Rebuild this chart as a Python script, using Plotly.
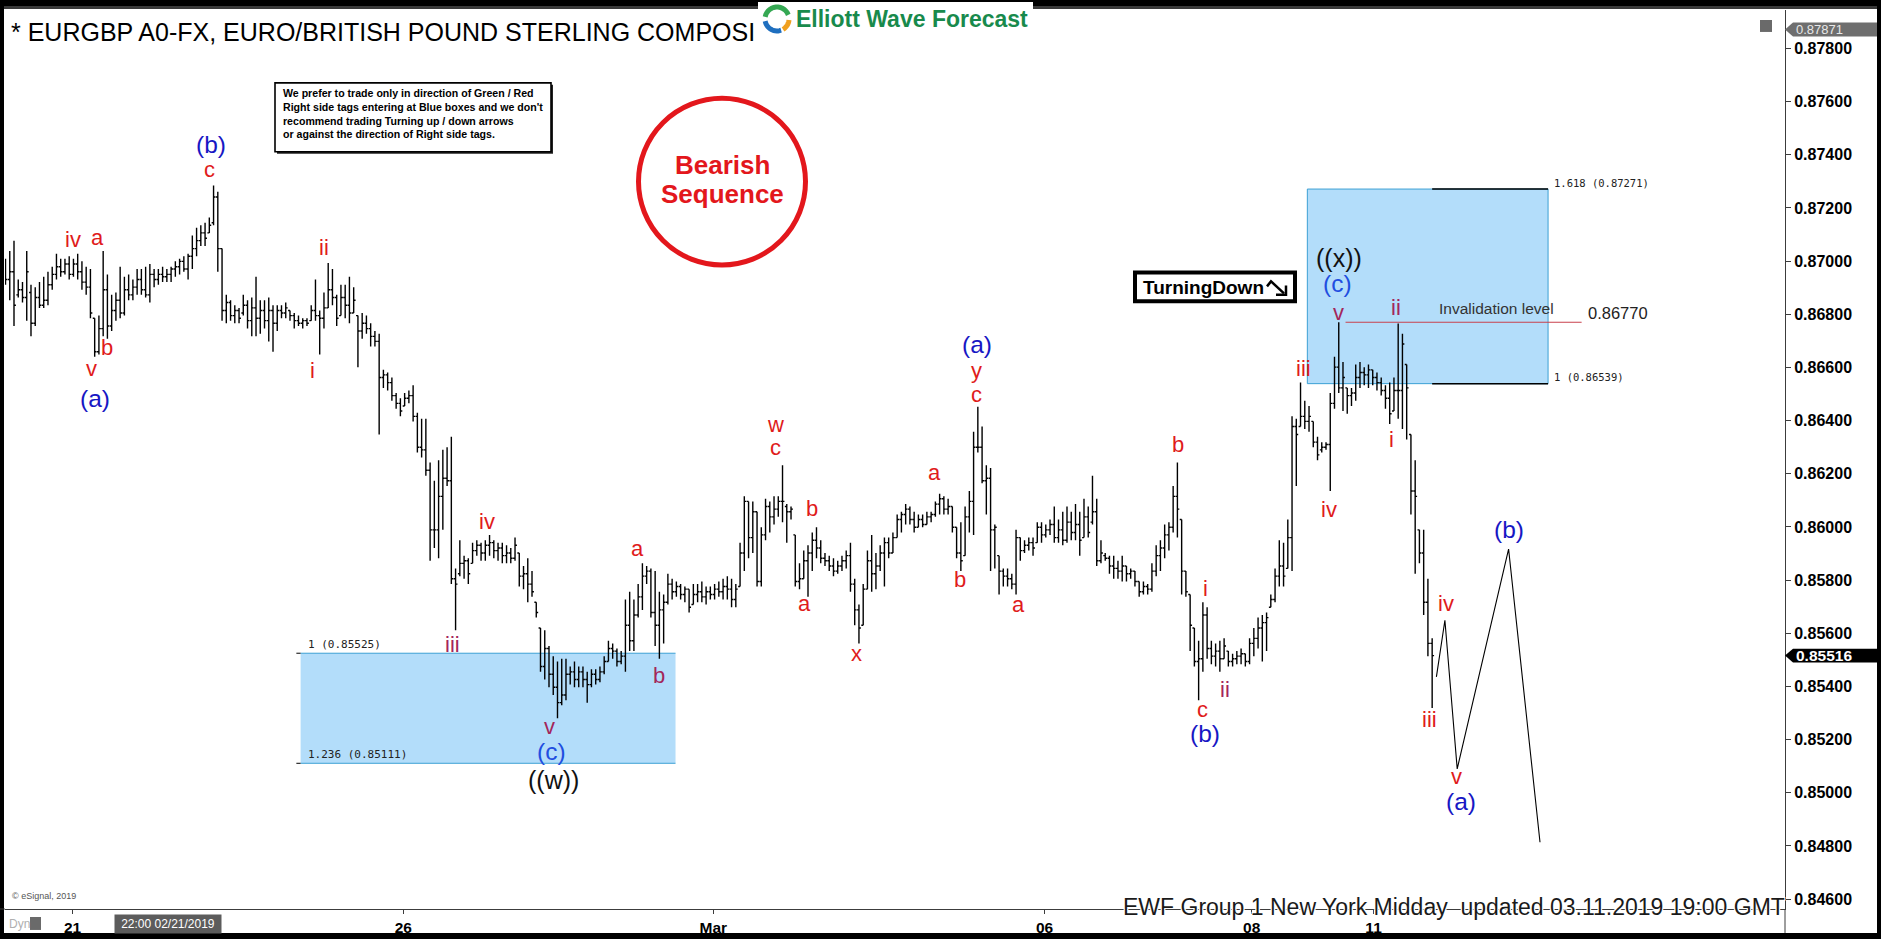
import math
import plotly.graph_objects as go

# ---------------------------------------------------------------- canvas
W, H = 1881, 941
ML, MR, MT, MB = 5, 96, 10, 30
PW, PH = W - ML - MR, H - MT - MB

Y_LO, Y_HI = 0.845629, 0.879445
X_LO, X_HI = -0.12, 419.1


def xp(x):
    """pixel column -> paper x"""
    return (x - ML) / PW


def yp(y):
    """pixel row -> paper y"""
    return (H - MB - y) / PH


def pp(price):
    """price -> paper y"""
    return (price - Y_LO) / (Y_HI - Y_LO)


# ---------------------------------------------------------------- hourly bars
OPEN = [
    0.86950, 0.86931, 0.86960, 0.86873, 0.86892, 0.86863, 0.86882, 0.86766, 0.86863, 0.86834,
    0.86853, 0.86911, 0.86950, 0.86979, 0.86960, 0.86989, 0.86950, 0.86989, 0.86960, 0.86921,
    0.86902, 0.86785, 0.86659, 0.86746, 0.86892, 0.86756, 0.86814, 0.86853, 0.86805, 0.86892,
    0.86873, 0.86902, 0.86931, 0.86892, 0.86873, 0.86950, 0.86931, 0.86950, 0.86941, 0.86950,
    0.86970, 0.86979, 0.86999, 0.86970, 0.87018, 0.87047, 0.87077, 0.87106, 0.87106, 0.87144,
    0.87241, 0.87047, 0.86814, 0.86844, 0.86795, 0.86814, 0.86805, 0.86834, 0.86776, 0.86824,
    0.86785, 0.86814, 0.86776, 0.86814, 0.86766, 0.86814, 0.86805, 0.86814, 0.86795, 0.86776,
    0.86766, 0.86776, 0.86776, 0.86814, 0.86795, 0.86785, 0.86824, 0.86892, 0.86863, 0.86795,
    0.86863, 0.86834, 0.86805, 0.86795, 0.86737, 0.86766,
    0.86746, 0.86717, 0.86698, 0.86562, 0.86572, 0.86543, 0.86494, 0.86465, 0.86455, 0.86484,
    0.86494, 0.86416, 0.86300, 0.86290, 0.86213, 0.85989, 0.85989, 0.86115, 0.86183, 0.86174,
    0.85805, 0.85824, 0.85863, 0.85873, 0.85863, 0.85911, 0.85931, 0.85902, 0.85931, 0.85941,
    0.85911, 0.85921, 0.85892, 0.85902, 0.85882, 0.85902, 0.85815, 0.85824, 0.85785, 0.85717,
    0.85620, 0.85475, 0.85543, 0.85446, 0.85397, 0.85339, 0.85368, 0.85446, 0.85455, 0.85426,
    0.85455, 0.85426, 0.85407, 0.85446, 0.85426, 0.85455, 0.85494, 0.85543, 0.85533, 0.85494,
    0.85514, 0.85630, 0.85572, 0.85669, 0.85737, 0.85815, 0.85834, 0.85678, 0.85630, 0.85688,
    0.85717, 0.85785, 0.85756, 0.85776, 0.85746, 0.85766, 0.85708, 0.85746, 0.85756, 0.85737,
    0.85756, 0.85746, 0.85766, 0.85756, 0.85776,
    0.85766, 0.85727, 0.85776, 0.85902, 0.86096, 0.85960, 0.86057, 0.85795, 0.85970, 0.86077,
    0.86038, 0.86067, 0.86096, 0.86077, 0.86057, 0.85970, 0.85795, 0.85805, 0.85873, 0.85902,
    0.85950, 0.85921, 0.85882, 0.85873, 0.85853, 0.85834, 0.85853, 0.85873, 0.85892, 0.85785,
    0.85688, 0.85630, 0.85766, 0.85873, 0.85824, 0.85853, 0.85902, 0.85941, 0.85902, 0.85960,
    0.86028, 0.86047, 0.86067, 0.86028, 0.85999, 0.86028, 0.86009, 0.86038, 0.86047, 0.86086,
    0.86106, 0.86067, 0.86077, 0.85999, 0.85902, 0.85892, 0.86038, 0.86096, 0.86300, 0.86300,
    0.86174, 0.86183, 0.85989, 0.85892, 0.85834, 0.85815, 0.85805, 0.85785, 0.85960, 0.85911,
    0.85931, 0.85941, 0.85941, 0.85999, 0.85970, 0.85989, 0.86009, 0.85960, 0.85989, 0.85950,
    0.86018, 0.85979, 0.86009, 0.85960,
    0.86038, 0.86018, 0.86057, 0.85873, 0.85892, 0.85882, 0.85853, 0.85844, 0.85834, 0.85853,
    0.85824, 0.85834, 0.85795, 0.85756, 0.85776, 0.85766, 0.85834, 0.85892, 0.85921, 0.85970,
    0.85999, 0.86115, 0.86028, 0.85834, 0.85746, 0.85620, 0.85494, 0.85504, 0.85669, 0.85543,
    0.85514, 0.85533, 0.85504, 0.85533, 0.85494, 0.85504, 0.85514, 0.85523, 0.85494, 0.85562,
    0.85581, 0.85620, 0.85640, 0.85698, 0.85727, 0.85815, 0.85853, 0.85844, 0.85960, 0.86378,
    0.86378, 0.86416, 0.86397, 0.86397, 0.86319, 0.86290, 0.86300, 0.86310, 0.86465, 0.86601,
    0.86523, 0.86523, 0.86494, 0.86504, 0.86562, 0.86581, 0.86572, 0.86591, 0.86562, 0.86543,
    0.86513, 0.86484, 0.86436, 0.86513, 0.86513, 0.86611, 0.86348, 0.86135, 0.85989, 0.85902,
    0.85717, 0.85562,
]

HIGH = [
    0.87009, 0.87038, 0.87077, 0.86931, 0.86921, 0.87038, 0.86911, 0.86902, 0.86921, 0.86941,
    0.86960, 0.86979, 0.87028, 0.87009, 0.87009, 0.87018, 0.87009, 0.87028, 0.86999, 0.86979,
    0.86970, 0.86785, 0.86795, 0.87038, 0.86950, 0.86873, 0.86882, 0.86979, 0.86941, 0.86950,
    0.86931, 0.86970, 0.86970, 0.86979, 0.86989, 0.86970, 0.86970, 0.86979, 0.86970, 0.86979,
    0.86999, 0.87009, 0.87018, 0.87028, 0.87096, 0.87125, 0.87135, 0.87144, 0.87164, 0.87284,
    0.87261, 0.87047, 0.86873, 0.86853, 0.86834, 0.86824, 0.86873, 0.86853, 0.86863, 0.86941,
    0.86853, 0.86853, 0.86863, 0.86834, 0.86834, 0.86834, 0.86844, 0.86814, 0.86805, 0.86795,
    0.86785, 0.86785, 0.86834, 0.86931, 0.86814, 0.86882, 0.86993, 0.86970, 0.86873, 0.86911,
    0.86911, 0.86941, 0.86902, 0.86795, 0.86805, 0.86795,
    0.86766, 0.86737, 0.86727, 0.86591, 0.86581, 0.86562, 0.86504, 0.86484, 0.86504, 0.86513,
    0.86533, 0.86430, 0.86407, 0.86407, 0.86242, 0.86174, 0.86251, 0.86290, 0.86300, 0.86339,
    0.85844, 0.85950, 0.85892, 0.85882, 0.85941, 0.85950, 0.85941, 0.85950, 0.85970, 0.85950,
    0.85941, 0.85941, 0.85931, 0.85921, 0.85960, 0.85902, 0.85853, 0.85882, 0.85834, 0.85717,
    0.85620, 0.85611, 0.85552, 0.85514, 0.85494, 0.85504, 0.85504, 0.85475, 0.85494, 0.85475,
    0.85475, 0.85455, 0.85465, 0.85465, 0.85475, 0.85514, 0.85572, 0.85562, 0.85543, 0.85533,
    0.85727, 0.85756, 0.85727, 0.85785, 0.85863, 0.85853, 0.85844, 0.85834, 0.85756, 0.85746,
    0.85824, 0.85805, 0.85795, 0.85785, 0.85776, 0.85766, 0.85785, 0.85785, 0.85795, 0.85776,
    0.85776, 0.85785, 0.85795, 0.85805, 0.85815,
    0.85805, 0.85785, 0.85941, 0.86115, 0.86096, 0.86096, 0.86057, 0.85999, 0.86106, 0.86096,
    0.86115, 0.86115, 0.86232, 0.86086, 0.86077, 0.85970, 0.85863, 0.85911, 0.85931, 0.85979,
    0.85999, 0.85950, 0.85902, 0.85892, 0.85882, 0.85873, 0.85892, 0.85911, 0.85941, 0.85805,
    0.85708, 0.85785, 0.85911, 0.85970, 0.85902, 0.85931, 0.85960, 0.85960, 0.85979, 0.86047,
    0.86057, 0.86086, 0.86077, 0.86057, 0.86047, 0.86047, 0.86057, 0.86057, 0.86096, 0.86125,
    0.86115, 0.86106, 0.86077, 0.85999, 0.86018, 0.86077, 0.86135, 0.86358, 0.86452, 0.86378,
    0.86232, 0.86222, 0.86009, 0.85892, 0.85844, 0.85844, 0.85824, 0.85989, 0.85960, 0.85950,
    0.85960, 0.85960, 0.86018, 0.86018, 0.86009, 0.86028, 0.86077, 0.86028, 0.86057, 0.86077,
    0.86057, 0.86086, 0.86057, 0.86106,
    0.86077, 0.86193, 0.86106, 0.85950, 0.85902, 0.85892, 0.85892, 0.85873, 0.85892, 0.85853,
    0.85844, 0.85834, 0.85795, 0.85795, 0.85785, 0.85863, 0.85931, 0.85950, 0.86009, 0.86018,
    0.86154, 0.86242, 0.86028, 0.85834, 0.85746, 0.85620, 0.85572, 0.85717, 0.85698, 0.85572,
    0.85562, 0.85572, 0.85581, 0.85533, 0.85523, 0.85533, 0.85543, 0.85523, 0.85581, 0.85620,
    0.85659, 0.85669, 0.85678, 0.85746, 0.85844, 0.85950, 0.85941, 0.86028, 0.86416, 0.86407,
    0.86543, 0.86475, 0.86455, 0.86397, 0.86339, 0.86319, 0.86319, 0.86504, 0.86640, 0.86770,
    0.86620, 0.86523, 0.86523, 0.86611, 0.86620, 0.86601, 0.86611, 0.86591, 0.86581, 0.86562,
    0.86533, 0.86543, 0.86562, 0.86765, 0.86727, 0.86611, 0.86348, 0.86251, 0.85989, 0.85989,
    0.85805, 0.85581,
]

LOW = [
    0.86911, 0.86853, 0.86756, 0.86863, 0.86844, 0.86776, 0.86717, 0.86756, 0.86824, 0.86824,
    0.86834, 0.86892, 0.86931, 0.86941, 0.86950, 0.86931, 0.86941, 0.86931, 0.86892, 0.86873,
    0.86785, 0.86640, 0.86649, 0.86717, 0.86708, 0.86737, 0.86776, 0.86785, 0.86795, 0.86853,
    0.86853, 0.86873, 0.86873, 0.86863, 0.86844, 0.86902, 0.86911, 0.86921, 0.86921, 0.86921,
    0.86941, 0.86950, 0.86960, 0.86931, 0.86970, 0.87018, 0.87057, 0.87057, 0.87106, 0.87135,
    0.86960, 0.86776, 0.86766, 0.86776, 0.86766, 0.86766, 0.86795, 0.86746, 0.86717, 0.86717,
    0.86727, 0.86746, 0.86698, 0.86659, 0.86737, 0.86785, 0.86785, 0.86776, 0.86746, 0.86756,
    0.86746, 0.86756, 0.86776, 0.86776, 0.86649, 0.86746, 0.86824, 0.86834, 0.86756, 0.86795,
    0.86785, 0.86766, 0.86805, 0.86601, 0.86708, 0.86727,
    0.86679, 0.86679, 0.86348, 0.86523, 0.86513, 0.86475, 0.86445, 0.86416, 0.86455, 0.86465,
    0.86397, 0.86280, 0.86261, 0.86193, 0.85873, 0.85921, 0.85882, 0.85989, 0.86154, 0.85785,
    0.85611, 0.85815, 0.85805, 0.85785, 0.85863, 0.85892, 0.85873, 0.85873, 0.85892, 0.85882,
    0.85873, 0.85863, 0.85863, 0.85863, 0.85873, 0.85776, 0.85766, 0.85717, 0.85737, 0.85659,
    0.85455, 0.85426, 0.85397, 0.85368, 0.85280, 0.85329, 0.85348, 0.85407, 0.85397, 0.85397,
    0.85397, 0.85339, 0.85397, 0.85407, 0.85416, 0.85446, 0.85494, 0.85504, 0.85475, 0.85484,
    0.85455, 0.85533, 0.85533, 0.85659, 0.85688, 0.85785, 0.85659, 0.85552, 0.85504, 0.85562,
    0.85708, 0.85727, 0.85737, 0.85727, 0.85717, 0.85678, 0.85708, 0.85717, 0.85717, 0.85708,
    0.85727, 0.85727, 0.85737, 0.85727, 0.85727,
    0.85698, 0.85698, 0.85776, 0.85834, 0.85882, 0.85902, 0.85776, 0.85776, 0.85950, 0.85979,
    0.86009, 0.86038, 0.86018, 0.85941, 0.86028, 0.85776, 0.85766, 0.85805, 0.85737, 0.85834,
    0.85882, 0.85863, 0.85853, 0.85834, 0.85815, 0.85824, 0.85834, 0.85844, 0.85756, 0.85630,
    0.85562, 0.85630, 0.85766, 0.85756, 0.85766, 0.85834, 0.85776, 0.85882, 0.85902, 0.85960,
    0.85979, 0.86009, 0.86009, 0.85979, 0.85999, 0.85999, 0.86009, 0.86018, 0.86038, 0.86047,
    0.86047, 0.86047, 0.85979, 0.85882, 0.85834, 0.85892, 0.85979, 0.85970, 0.86280, 0.86164,
    0.86047, 0.85834, 0.85844, 0.85746, 0.85776, 0.85776, 0.85766, 0.85746, 0.85873, 0.85902,
    0.85911, 0.85892, 0.85941, 0.85941, 0.85960, 0.85970, 0.85941, 0.85941, 0.85931, 0.85941,
    0.85950, 0.85950, 0.85892, 0.85960,
    0.85960, 0.86009, 0.85853, 0.85863, 0.85873, 0.85824, 0.85805, 0.85805, 0.85795, 0.85795,
    0.85805, 0.85776, 0.85737, 0.85746, 0.85746, 0.85756, 0.85815, 0.85834, 0.85882, 0.85911,
    0.85979, 0.85960, 0.85746, 0.85737, 0.85533, 0.85475, 0.85348, 0.85455, 0.85504, 0.85484,
    0.85475, 0.85455, 0.85504, 0.85475, 0.85475, 0.85484, 0.85484, 0.85475, 0.85484, 0.85514,
    0.85543, 0.85494, 0.85533, 0.85698, 0.85717, 0.85776, 0.85776, 0.85844, 0.85834, 0.86154,
    0.86378, 0.86368, 0.86358, 0.86300, 0.86251, 0.86280, 0.86290, 0.86135, 0.86445, 0.86504,
    0.86436, 0.86426, 0.86455, 0.86475, 0.86523, 0.86533, 0.86523, 0.86533, 0.86513, 0.86494,
    0.86445, 0.86387, 0.86436, 0.86407, 0.86368, 0.86329, 0.86047, 0.85824, 0.85863, 0.85669,
    0.85514, 0.85319,
]

CLOSE = [
    0.86931, 0.86960, 0.86834, 0.86892, 0.86863, 0.86960, 0.86766, 0.86863, 0.86834, 0.86853,
    0.86911, 0.86950, 0.86979, 0.86960, 0.86989, 0.86950, 0.86989, 0.86960, 0.86921, 0.86902,
    0.86805, 0.86659, 0.86746, 0.86892, 0.86756, 0.86814, 0.86853, 0.86805, 0.86892, 0.86873,
    0.86902, 0.86931, 0.86892, 0.86873, 0.86950, 0.86931, 0.86950, 0.86941, 0.86950, 0.86970,
    0.86979, 0.86999, 0.86970, 0.87018, 0.87047, 0.87077, 0.87106, 0.87086, 0.87135, 0.87241,
    0.87047, 0.86814, 0.86844, 0.86795, 0.86814, 0.86785, 0.86834, 0.86776, 0.86824, 0.86785,
    0.86814, 0.86776, 0.86814, 0.86766, 0.86814, 0.86805, 0.86824, 0.86795, 0.86776, 0.86766,
    0.86776, 0.86766, 0.86814, 0.86795, 0.86785, 0.86824, 0.86892, 0.86863, 0.86785, 0.86863,
    0.86834, 0.86805, 0.86853, 0.86737, 0.86766, 0.86746,
    0.86717, 0.86698, 0.86562, 0.86572, 0.86543, 0.86494, 0.86465, 0.86436, 0.86484, 0.86494,
    0.86416, 0.86300, 0.86290, 0.86213, 0.85989, 0.85989, 0.86115, 0.86183, 0.86174, 0.85805,
    0.85785, 0.85863, 0.85873, 0.85824, 0.85911, 0.85931, 0.85902, 0.85931, 0.85941, 0.85911,
    0.85921, 0.85892, 0.85902, 0.85882, 0.85931, 0.85815, 0.85824, 0.85785, 0.85756, 0.85678,
    0.85475, 0.85543, 0.85446, 0.85397, 0.85339, 0.85368, 0.85446, 0.85455, 0.85426, 0.85455,
    0.85426, 0.85407, 0.85446, 0.85426, 0.85455, 0.85494, 0.85543, 0.85533, 0.85494, 0.85514,
    0.85630, 0.85572, 0.85669, 0.85737, 0.85815, 0.85834, 0.85678, 0.85630, 0.85688, 0.85717,
    0.85785, 0.85756, 0.85776, 0.85746, 0.85766, 0.85698, 0.85746, 0.85756, 0.85737, 0.85756,
    0.85746, 0.85766, 0.85756, 0.85776, 0.85766,
    0.85727, 0.85766, 0.85902, 0.86096, 0.85960, 0.86057, 0.85795, 0.85970, 0.86077, 0.86038,
    0.86067, 0.86096, 0.86096, 0.86057, 0.86067, 0.85795, 0.85805, 0.85873, 0.85902, 0.85950,
    0.85921, 0.85882, 0.85873, 0.85853, 0.85834, 0.85853, 0.85873, 0.85892, 0.85785, 0.85688,
    0.85620, 0.85766, 0.85873, 0.85824, 0.85853, 0.85902, 0.85941, 0.85902, 0.85960, 0.86028,
    0.86047, 0.86067, 0.86028, 0.85999, 0.86028, 0.86009, 0.86038, 0.86047, 0.86086, 0.86106,
    0.86067, 0.86077, 0.85999, 0.85902, 0.85873, 0.86038, 0.86096, 0.86300, 0.86300, 0.86174,
    0.86183, 0.85989, 0.85999, 0.85834, 0.85815, 0.85805, 0.85785, 0.85960, 0.85911, 0.85931,
    0.85941, 0.85921, 0.85999, 0.85970, 0.85989, 0.86009, 0.85960, 0.85989, 0.85950, 0.86018,
    0.85979, 0.86009, 0.85950, 0.86038,
    0.85979, 0.86057, 0.85873, 0.85902, 0.85882, 0.85853, 0.85844, 0.85834, 0.85853, 0.85824,
    0.85834, 0.85795, 0.85756, 0.85776, 0.85766, 0.85834, 0.85892, 0.85921, 0.85970, 0.85999,
    0.86115, 0.86067, 0.85834, 0.85756, 0.85630, 0.85494, 0.85504, 0.85669, 0.85543, 0.85514,
    0.85533, 0.85504, 0.85552, 0.85494, 0.85504, 0.85514, 0.85523, 0.85494, 0.85562, 0.85581,
    0.85620, 0.85640, 0.85659, 0.85727, 0.85815, 0.85853, 0.85815, 0.85960, 0.86378, 0.86348,
    0.86416, 0.86397, 0.86416, 0.86319, 0.86271, 0.86300, 0.86310, 0.86465, 0.86601, 0.86523,
    0.86562, 0.86494, 0.86504, 0.86562, 0.86581, 0.86572, 0.86591, 0.86562, 0.86543, 0.86513,
    0.86484, 0.86426, 0.86513, 0.86513, 0.86688, 0.86523, 0.86135, 0.86115, 0.85902, 0.85717,
    0.85562, 0.85516,
]

BARS = list(range(len(CLOSE)))

# session labels on the time axis (bar positions)
TICK_BARS = [15.8, 93.7, 166.7, 244.7, 293.5, 322.2]
TICK_TEXT = ["21", "26", "Mar", "06", "08", "11"]

PRICE_TICKS = [0.846, 0.848, 0.850, 0.852, 0.854, 0.856, 0.858, 0.860, 0.862,
               0.864, 0.866, 0.868, 0.870, 0.872, 0.874, 0.876, 0.878]

# Fibonacci extension zones: (bar from, bar to, 1.0 level, 1.236/1.618 level)
LEFT_ZONE = (69.5, 157.8, 0.85525, 0.85111)
RIGHT_ZONE = (306.6, 363.3, 0.86539, 0.87271)
INVALIDATION = 0.86770
LAST_PRICE = 0.85516
TOP_PRICE = 0.87871

# projected path after the last bar
PROJ_BARS = [337.0, 339.0, 341.9, 354.0, 361.4]
PROJ_PRICES = [0.85436, 0.85649, 0.85090, 0.85917, 0.84814]

RED = "#e01b1b"
BLUE = "#1717c4"
BRIGHT_BLUE = "#1f4ee0"
MAROON = "#a3265a"
BLACK = "#111111"

R_SZ, B_SZ, K_SZ = 22, 24.5, 25

# wave labels: text, bar, price, colour, size
WAVE_LABELS = [
    ("(b)", 48.3, 0.87438, BLUE, B_SZ), ("c", 48.0, 0.87345, RED, R_SZ),
    ("iv", 15.9, 0.87082, RED, R_SZ), ("a", 21.6, 0.87090, RED, R_SZ),
    ("b", 23.8, 0.86675, RED, R_SZ), ("v", 20.3, 0.86595, RED, R_SZ),
    ("(a)", 21.0, 0.86485, BLUE, B_SZ),
    ("ii", 75.0, 0.87051, RED, R_SZ), ("i", 72.4, 0.86590, RED, R_SZ),
    ("iv", 113.4, 0.86019, RED, R_SZ), ("iii", 105.2, 0.85558, MAROON, R_SZ),
    ("a", 148.8, 0.85918, RED, R_SZ), ("b", 153.9, 0.85440, MAROON, R_SZ),
    ("v", 128.2, 0.85250, MAROON, R_SZ), ("(c)", 128.5, 0.85155, BRIGHT_BLUE, B_SZ),
    ("((w))", 129.0, 0.85050, BLACK, K_SZ),
    ("w", 181.3, 0.86385, RED, R_SZ), ("c", 181.3, 0.86298, RED, R_SZ),
    ("b", 190.0, 0.86068, RED, R_SZ), ("a", 188.2, 0.85711, RED, R_SZ),
    ("x", 200.4, 0.85524, RED, R_SZ),
    ("a", 218.9, 0.86203, RED, R_SZ), ("b", 224.8, 0.85801, RED, R_SZ),
    ("(a)", 228.8, 0.86688, BLUE, B_SZ), ("y", 228.8, 0.86590, RED, R_SZ),
    ("c", 228.7, 0.86500, RED, R_SZ), ("a", 238.6, 0.85708, RED, R_SZ),
    ("b", 276.2, 0.86310, RED, R_SZ), ("i", 282.5, 0.85770, RED, R_SZ),
    ("ii", 287.1, 0.85387, MAROON, R_SZ), ("c", 281.8, 0.85312, RED, R_SZ),
    ("(b)", 282.4, 0.85222, BLUE, B_SZ),
    ("iii", 305.8, 0.86597, RED, R_SZ), ("iv", 311.7, 0.86067, RED, R_SZ),
    ("((x))", 314.0, 0.87010, BLACK, K_SZ), ("(c)", 313.8, 0.86914, BRIGHT_BLUE, B_SZ),
    ("v", 314.0, 0.86806, MAROON, R_SZ), ("ii", 327.4, 0.86824, MAROON, R_SZ),
    ("i", 326.4, 0.86329, RED, R_SZ),
    ("iv", 339.2, 0.85711, RED, R_SZ), ("iii", 335.4, 0.85275, RED, R_SZ),
    ("v", 341.8, 0.85060, RED, R_SZ), ("(a)", 342.9, 0.84966, BLUE, B_SZ),
    ("(b)", 354.0, 0.85990, BLUE, B_SZ),
]

FONT = "Liberation Sans, Arial, sans-serif"
MONO = "DejaVu Sans Mono, monospace"

fig = go.Figure()

fig.add_trace(go.Ohlc(
    x=BARS, open=OPEN, high=HIGH, low=LOW, close=CLOSE,
    increasing=dict(line=dict(color="black", width=1.4)),
    decreasing=dict(line=dict(color="black", width=1.4)),
    tickwidth=0.45, hoverinfo="skip", showlegend=False,
))

fig.add_trace(go.Scatter(
    x=PROJ_BARS, y=PROJ_PRICES, mode="lines",
    line=dict(color="black", width=1.1), hoverinfo="skip", showlegend=False,
))

shapes = []
ann = []

ZONE_FILL = "rgb(179,221,250)"
ZONE_EDGE = "rgb(60,160,212)"

# left zone
lx0, lx1, l_one, l_ext = LEFT_ZONE
shapes.append(dict(type="rect", xref="x", yref="y", x0=lx0, x1=lx1, y0=l_ext, y1=l_one,
                   fillcolor=ZONE_FILL, line=dict(width=0), layer="below"))
for lvl in (l_one, l_ext):
    shapes.append(dict(type="line", xref="x", yref="y", x0=lx0, x1=lx1, y0=lvl, y1=lvl,
                       line=dict(color=ZONE_EDGE, width=1), layer="below"))
    shapes.append(dict(type="line", xref="x", yref="y", x0=lx0 - 1.0, x1=lx0, y0=lvl, y1=lvl,
                       line=dict(color="black", width=1), layer="below"))
ann.append(dict(x=lx0 + 1.2, y=l_one, xref="x", yref="y", text=f"1 ({l_one:.5f})",
                xanchor="left", yanchor="bottom", showarrow=False,
                font=dict(family=MONO, size=11, color="#222")))
ann.append(dict(x=lx0 + 1.2, y=l_ext, xref="x", yref="y", text=f"1.236 ({l_ext:.5f})",
                xanchor="left", yanchor="bottom", showarrow=False,
                font=dict(family=MONO, size=11, color="#222")))

# right zone
rx0, rx1, r_one, r_ext = RIGHT_ZONE
shapes.append(dict(type="rect", xref="x", yref="y", x0=rx0, x1=rx1, y0=r_one, y1=r_ext,
                   fillcolor=ZONE_FILL, line=dict(color=ZONE_EDGE, width=1), layer="below"))
for lvl in (r_one, r_ext):
    shapes.append(dict(type="line", xref="x", yref="y", x0=len(CLOSE) - 1, x1=rx1, y0=lvl, y1=lvl,
                       line=dict(color="black", width=1.5), layer="below"))
ann.append(dict(x=rx1 + 1.0, y=r_ext, xref="x", yref="y", text=f"1.618 ({r_ext:.5f})",
                xanchor="left", yanchor="middle", yshift=6, showarrow=False,
                font=dict(family=MONO, size=10.5, color="#222")))
ann.append(dict(x=rx1 + 1.0, y=r_one, xref="x", yref="y", text=f"1 ({r_one:.5f})",
                xanchor="left", yanchor="middle", yshift=7, showarrow=False,
                font=dict(family=MONO, size=10.5, color="#222")))

# invalidation level
shapes.append(dict(type="line", xref="x", yref="y", x0=315.6, x1=371.2,
                   y0=INVALIDATION, y1=INVALIDATION,
                   line=dict(color="#c8404c", width=1.2)))
ann.append(dict(x=337.2, y=INVALIDATION, xref="x", yref="y", text="Invalidation level",
                xanchor="left", yanchor="middle", yshift=14, showarrow=False,
                font=dict(family=FONT, size=15.5, color="#333")))
ann.append(dict(x=372.3, y=INVALIDATION, xref="x", yref="y", text=f"{INVALIDATION:.5f}",
                xanchor="left", yanchor="middle", yshift=9, showarrow=False,
                font=dict(family=FONT, size=16.5, color="#222")))

# wave counts
for txt, bx, pr, col, sz in WAVE_LABELS:
    ann.append(dict(x=bx, y=pr, xref="x", yref="y", text=txt, showarrow=False,
                    xanchor="center", yanchor="middle", borderpad=0,
                    font=dict(family=FONT, size=sz, color=col)))


# ---------------------------------------------------------------- frame
def prect(x0, y0, x1, y1, fill, line_w=0, line_c=None, layer="above"):
    return dict(type="rect", xref="paper", yref="paper",
                x0=xp(x0), x1=xp(x1), y0=yp(y1), y1=yp(y0),
                fillcolor=fill, line=dict(width=line_w, color=line_c or fill), layer=layer)


def ptext(x, y, text, size, color="black", anchor="center", weight="normal", family=FONT, **kw):
    return dict(x=xp(x), y=yp(y), xref="paper", yref="paper", text=text,
                xanchor=anchor, yanchor="middle", showarrow=False,
                font=dict(family=family, size=size, color=color, weight=weight), **kw)


shapes.append(prect(0, 0, W, 6, "black"))
shapes.append(prect(0, 6, W, 9, "#3a3a3a"))
shapes.append(prect(0, 0, 4, H, "black"))
shapes.append(prect(W - 4, 0, W, H, "black"))
shapes.append(prect(0, H - 6, W, H, "black"))
shapes.append(dict(type="line", xref="paper", yref="paper", x0=xp(1785), x1=xp(1785),
                   y0=yp(935), y1=yp(911), line=dict(color="#3c3c3c", width=1)))
shapes.append(dict(type="line", xref="paper", yref="paper", x0=xp(0), x1=xp(5),
                   y0=yp(911), y1=yp(911), line=dict(color="#3c3c3c", width=1)))
# small window icon
shapes.append(prect(1760, 20, 1772, 32, "#6a6a6a"))


# price tags on the scale
def tag(price, fill):
    h = 7.0 / PH
    y = pp(price)
    path = (f"M {xp(1785):.5f},{y:.5f} L {xp(1793):.5f},{y + h:.5f} L {xp(1877):.5f},{y + h:.5f} "
            f"L {xp(1877):.5f},{y - h:.5f} L {xp(1793):.5f},{y - h:.5f} Z")
    return dict(type="path", xref="paper", yref="paper", path=path,
                fillcolor=fill, line=dict(width=0), layer="above")


shapes.append(tag(TOP_PRICE, "#6e6e6e"))
shapes.append(tag(LAST_PRICE, "black"))
ann.append(dict(x=xp(1794), y=pp(TOP_PRICE), xref="paper", yref="paper", text=f"{TOP_PRICE:.5f}",
                xanchor="left", yanchor="middle", showarrow=False,
                font=dict(family=FONT, size=13, color="#e8e8e8")))
ann.append(dict(x=xp(1794), y=pp(LAST_PRICE), xref="paper", yref="paper", text=f"{LAST_PRICE:.5f}",
                xanchor="left", yanchor="middle", showarrow=False,
                font=dict(family=FONT, size=15.5, color="white", weight="bold")))

# info box
shapes.append(prect(277, 85, 553, 154, "#222"))
shapes.append(prect(275, 83, 551, 152, "white", 1.6, "black"))
ann.append(ptext(281, 113.5,
                 ("We prefer to trade only in direction of Green / Red<br>"
                  "Right side tags entering at Blue boxes and we don't<br>"
                  "recommend trading Turning up / down arrows<br>"
                  "or against the direction of Right side tags."),
                 10.6, anchor="left", weight="bold", align="left"))

# bearish sequence badge
shapes.append(dict(type="circle", xref="paper", yref="paper",
                   x0=xp(638.5), x1=xp(805.5), y0=yp(265.5), y1=yp(98.5),
                   line=dict(color="#e3171c", width=5), fillcolor="rgba(0,0,0,0)"))
ann.append(ptext(722, 165, "Bearish", 26, "#e3171c", weight="bold"))
ann.append(ptext(722, 194, "Sequence", 26, "#e3171c", weight="bold"))

# turning-down tag
shapes.append(prect(1135, 273, 1295, 302, "white", 4, "black"))
ann.append(ptext(1141, 288, "TurningDown", 19, anchor="left", weight="bold"))


def ppath(points, close=False):
    s = "M " + " L ".join(f"{xp(x):.5f},{yp(y):.5f}" for x, y in points)
    return s + (" Z" if close else "")


shapes.append(dict(type="path", xref="paper", yref="paper",
                   path=ppath([(1267, 287), (1271, 282), (1284, 294)]),
                   line=dict(color="black", width=2.5)))
shapes.append(dict(type="path", xref="paper", yref="paper",
                   path=ppath([(1276, 295.5), (1286, 295.5), (1286, 286)]),
                   line=dict(color="black", width=2.5)))

# logo
shapes.append(prect(758, 2, 1033, 37, "white"))


def arc(cx, cy, r, a0, a1, n=14):
    pts = []
    for k in range(n + 1):
        a = math.radians(a0 + (a1 - a0) * k / n)
        pts.append((cx + r * math.cos(a), cy - r * math.sin(a)))
    return ppath(pts)


for a0, a1, col in ((20, 170, "#35a853"), (190, 290, "#1f6fbf"), (300, 355, "#f0a020")):
    shapes.append(dict(type="path", xref="paper", yref="paper", path=arc(777, 19, 12, a0, a1),
                       line=dict(color=col, width=5)))
ann.append(ptext(794, 19, "Elliott Wave Forecast", 23, "#188a4c", anchor="left", weight="bold"))

# chart heading
ann.append(ptext(9, 32, "* EURGBP A0-FX, EURO/BRITISH POUND STERLING COMPOSI", 25, anchor="left"))

# footer items
ann.append(ptext(10, 898, "© eSignal, 2019", 9, "#555", anchor="left"))
ann.append(ptext(7, 926, "Dyn", 12, "#b0b0b0", anchor="left"))
shapes.append(prect(30, 919, 41, 932, "#6a6a6a"))
ann.append(ptext(168, 926, "22:00 02/21/2019", 12, "white", bgcolor="#5c5c5c", width=104, height=16))
ann.append(dict(x=xp(1454), y=yp(909), xref="paper", yref="paper",
                text="EWF Group 1 New York Midday  updated 03.11.2019 19:00 GMT",
                xanchor="center", yanchor="middle", showarrow=False,
                font=dict(family=FONT, size=23, color="#1a1a1a",
                          shadow="1px 1px 0 #fff, -1px -1px 0 #fff, 1px -1px 0 #fff, -1px 1px 0 #fff")))

fig.update_layout(
    width=W, height=H,
    margin=dict(l=ML, r=MR, t=MT, b=MB, pad=0),
    paper_bgcolor="white", plot_bgcolor="white",
    showlegend=False,
    shapes=shapes, annotations=ann,
    xaxis=dict(range=[X_LO, X_HI], showgrid=False, zeroline=False,
               showline=True, linecolor="#3c3c3c", linewidth=1,
               ticks="outside", ticklen=4, tickcolor="#3c3c3c",
               tickvals=TICK_BARS, ticktext=TICK_TEXT,
               tickfont=dict(family=FONT, size=15.5, color="black", weight="bold"),
               rangeslider=dict(visible=False), fixedrange=True),
    yaxis=dict(range=[Y_LO, Y_HI], side="right", showgrid=False, zeroline=False,
               showline=True, linecolor="#3c3c3c", linewidth=1,
               ticks="outside", ticklen=5, tickcolor="#3c3c3c",
               tickvals=PRICE_TICKS, tickformat=".5f",
               tickfont=dict(family=FONT, size=16, color="black", weight="bold"),
               fixedrange=True),
)

fig.write_html("out.html", config={"displayModeBar": False})
